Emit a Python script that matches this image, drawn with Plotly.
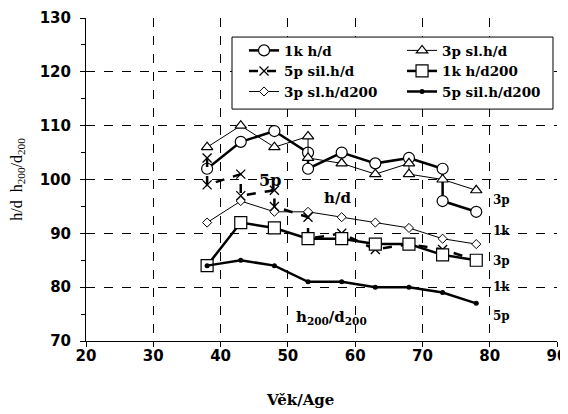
import plotly.graph_objects as go

ages = [38, 43, 48, 53, 58, 63, 68, 73, 78]

# h/d series (some ages carry two readings in the original chart)
ages_1k_hd = [38, 43, 48, 53, 53, 58, 63, 68, 73, 73, 78]
hd_1k = [102, 107, 109, 105, 102, 105, 103, 104, 102, 96, 94]

ages_3p_hd = [38, 43, 48, 53, 53, 58, 63, 68, 68, 73, 78]
hd_3p = [106, 110, 106, 108, 104, 103, 101, 103, 101, 100, 98]

ages_5p_hd = [38, 38, 43, 43, 48, 48, 53, 53, 58, 63, 68, 73, 78]
hd_5p = [104, 99, 101, 97, 98, 95, 93, 89, 90, 87, 88, 87, 85]

# h200/d200 series
hd200_1k = [84, 92, 91, 89, 89, 88, 88, 86, 85]
hd200_3p = [92, 96, 94, 94, 93, 92, 91, 89, 88]
hd200_5p = [84, 85, 84, 81, 81, 80, 80, 79, 77]

x_ticks = [20, 30, 40, 50, 60, 70, 80, 90]
y_ticks = [70, 80, 90, 100, 110, 120, 130]

names = ["1k h/d", "3p sl.h/d", "5p sil.h/d", "1k h/d200", "3p sl.h/d200", "5p sil.h/d200"]

fig = go.Figure()
fig.add_trace(go.Scatter(x=ages_1k_hd, y=hd_1k, name=names[0], mode="lines+markers",
                         legend="legend",
                         line=dict(color="black", width=2.5),
                         marker=dict(symbol="circle", size=11, color="white",
                                     line=dict(color="black", width=1.2))))
fig.add_trace(go.Scatter(x=ages_3p_hd, y=hd_3p, name=names[1], mode="lines+markers",
                         legend="legend2",
                         line=dict(color="black", width=1),
                         marker=dict(symbol="triangle-up", size=10, color="white",
                                     line=dict(color="black", width=1.2))))
fig.add_trace(go.Scatter(x=ages_5p_hd, y=hd_5p, name=names[2], mode="lines+markers",
                         legend="legend",
                         line=dict(color="black", width=2.5, dash="dash"),
                         marker=dict(symbol="x-thin", size=9, color="black",
                                     line=dict(color="black", width=1.3))))
fig.add_trace(go.Scatter(x=ages, y=hd200_1k, name=names[3], mode="lines+markers",
                         legend="legend2",
                         line=dict(color="black", width=2.5),
                         marker=dict(symbol="square", size=12, color="white",
                                     line=dict(color="black", width=1.2))))
fig.add_trace(go.Scatter(x=ages, y=hd200_3p, name=names[4], mode="lines+markers",
                         legend="legend",
                         line=dict(color="black", width=1),
                         marker=dict(symbol="diamond", size=7, color="white",
                                     line=dict(color="black", width=1))))
fig.add_trace(go.Scatter(x=ages, y=hd200_5p, name=names[5], mode="lines+markers",
                         legend="legend2",
                         line=dict(color="black", width=2.5),
                         marker=dict(symbol="circle", size=5, color="black")))

serif_b = "DejaVu Serif"
serif = "Liberation Serif"
sans = "DejaVu Sans"

annots = [
    dict(x=47.3, y=99.8, text="5p", size=16),
    dict(x=57.4, y=96.6, text="h/d", size=15),
    dict(x=56.5, y=74.4, text="h<sub>200</sub>/d<sub>200</sub>", size=15),
]
for a in annots:
    fig.add_annotation(x=a["x"], y=a["y"], text="<b>" + a["text"] + "</b>", showarrow=False,
                       font=dict(family=serif_b, size=a["size"], color="black"))

side_labels = ["3p", "1k", "3p", "1k", "5p"]
side_vals = [96.2, 90.5, 84.9, 80.0, 74.6]
for t, v in zip(side_labels, side_vals):
    fig.add_annotation(x=80.2, y=v, text="<b>" + t + "</b>", showarrow=False, xanchor="left",
                       font=dict(family=serif_b, size=12, color="black"))

fig.add_annotation(xref="paper", yref="paper", x=0.454, y=-0.183, text="<b>Věk/Age</b>",
                   showarrow=False, xanchor="center", yanchor="middle",
                   font=dict(family=serif_b, size=15, color="black"))

# legend frame
fig.add_shape(type="rect", xref="paper", yref="paper", x0=0.31, x1=0.9915, y0=0.718, y1=0.941,
              fillcolor="white", line=dict(color="black", width=1), layer="above")

leg_common = dict(orientation="v", yanchor="top", xanchor="left",
                  bgcolor="rgba(0,0,0,0)", borderwidth=0,
                  font=dict(family=serif_b, size=13.5, color="black", weight="bold"))

fig.update_layout(
    width=560, height=406,
    margin=dict(l=78, r=11, t=10, b=73),
    paper_bgcolor="white", plot_bgcolor="white",
    legend=dict(x=0.3355, y=0.947, **leg_common),
    legend2=dict(x=0.671, y=0.947, **leg_common),
    xaxis=dict(range=[20, 90], tickvals=x_ticks, ticktext=["<b>%d</b>" % v for v in x_ticks],
               showgrid=True, gridcolor="black",
               griddash="dash", gridwidth=0.8, showline=True, linecolor="black",
               linewidth=1, ticks="outside", ticklen=5, tickcolor="black",
               zeroline=False, automargin=False, ticklabelstandoff=-4,
               tickfont=dict(family=sans, size=15, color="black")),
    yaxis=dict(range=[70, 130], tickvals=y_ticks, ticktext=["<b>%d</b>" % v for v in y_ticks],
               showgrid=True, gridcolor="black",
               griddash="dash", gridwidth=0.8, showline=True, linecolor="black",
               linewidth=1, ticks="outside", ticklen=5, tickcolor="black",
               zeroline=False, automargin=False, ticklabelstandoff=6,
               minor=dict(dtick=5, ticks="outside", ticklen=4, tickcolor="black", showgrid=False),
               tickfont=dict(family=sans, size=15, color="black"),
               title=dict(text="h/d  h<sub>200</sub>/d<sub>200</sub>", standoff=20,
                          font=dict(family=serif, size=16, color="black"))),
)

fig.write_html("out.html")
